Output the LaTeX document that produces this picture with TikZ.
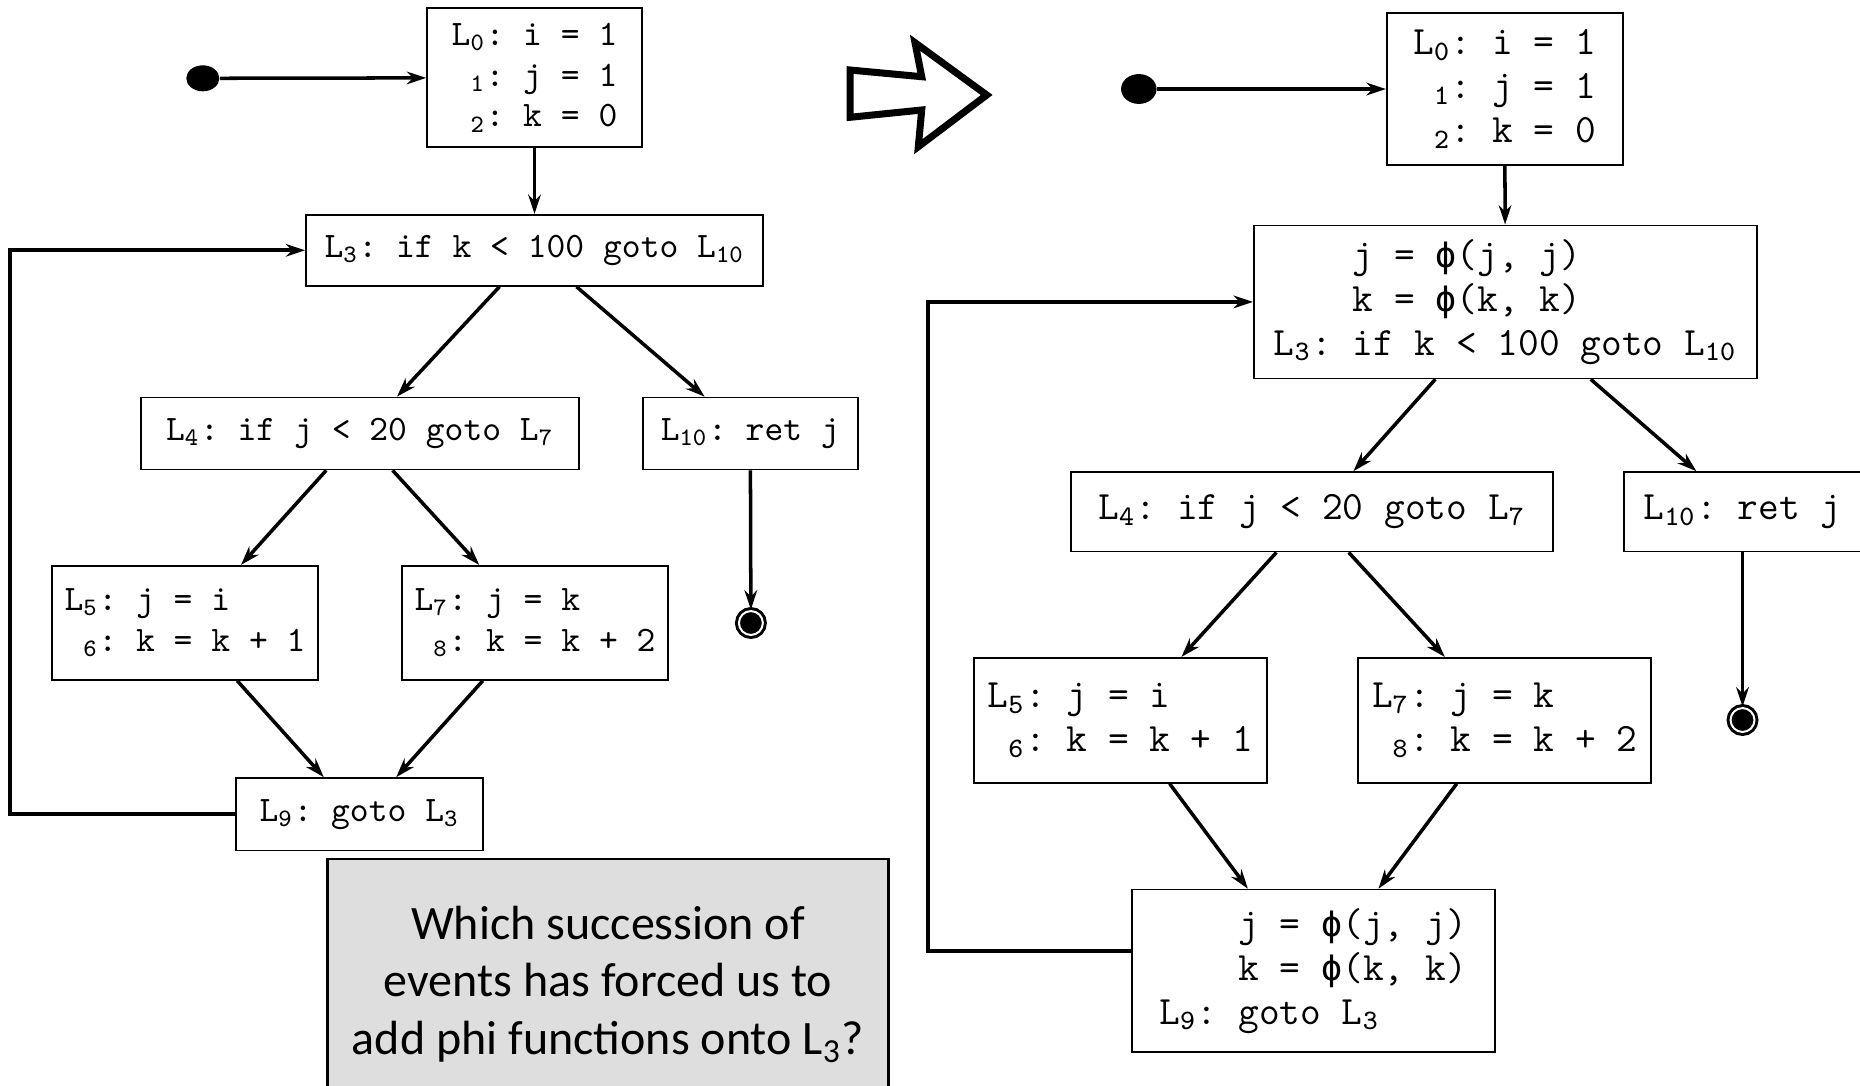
\documentclass[tikz,border=0pt]{standalone}
\usepackage{fontspec}
\usepackage{xcolor}
\usetikzlibrary{arrows.meta,shapes.geometric}
\newfontfamily\qfont{Carlito}
\newfontfamily\phifont[Scale=0.87]{DejaVu Sans Mono}
\definecolor{qgray}{HTML}{DEDEDE}
\newcommand{\Lb}[1]{L\textsubscript{#1}}
\newcommand{\Lx}[1]{\phantom{L}\textsubscript{#1}}
\newcommand{\phis}{{\phifont ϕ}}

\begin{document}
\begin{tikzpicture}[
  lb/.style={draw,line width=0.5pt,align=left,inner sep=0pt,font=\ttfamily\frenchspacing\fontsize{10.2}{11.6}\selectfont},
  rb/.style={draw,line width=0.5pt,align=left,inner sep=0pt,font=\ttfamily\frenchspacing\fontsize{11.45}{12.5}\selectfont},
  init/.style={ellipse,fill=black,inner sep=0pt},
  fin/.style={circle,fill=black,draw=black,double=white,double distance=0.57pt,line width=0.85pt,inner sep=0pt,minimum size=6.8pt},
  arr/.style={-{Stealth[length=5.5pt,width=3.6pt]},line width=1pt},
  back/.style={-{Stealth[length=5.5pt,width=3.6pt]},line width=1.1pt}]
\useasboundingbox (0,0) rectangle (18.6,-10.85);

% before
\node[init,minimum width=9.4pt,minimum height=7.4pt] (startL) at (2.028,-0.783) {};
\node[lb,minimum width=2.15cm,minimum height=1.39cm] (L0) at (5.345,-0.777)
  {\Lb{0}: i = 1\\\Lx{1}: j = 1\\\Lx{2}: k = 0};
\node[lb,minimum width=4.57cm,minimum height=0.71cm] (L3) at (5.345,-2.503) {\Lb{3}: if k < 100 goto \Lb{10}};
\node[lb,minimum width=4.38cm,minimum height=0.72cm] (L4) at (3.60,-4.335) {\Lb{4}: if j < 20 goto \Lb{7}};
\node[lb,minimum width=2.147cm,minimum height=0.72cm] (L10) at (7.503,-4.335) {\Lb{10}: ret j};
\node[lb,minimum width=2.66cm,minimum height=1.14cm] (L5) at (1.85,-6.228) {\Lb{5}: j = i\\\Lx{6}: k = k + 1};
\node[lb,minimum width=2.66cm,minimum height=1.14cm] (L7) at (5.35,-6.228) {\Lb{7}: j = k\\\Lx{8}: k = k + 2};
\node[lb,minimum width=2.468cm,minimum height=0.725cm] (L9) at (3.594,-8.143) {\Lb{9}: goto \Lb{3}};
\node[fin] (endL) at (7.509,-6.23) {};

\draw[arr] (startL) -- (L0);
\draw[arr] (L0) -- (L3);
\draw[arr] ([xshift=-0.35cm]L3.south) -- ([xshift=0.37cm]L4.north);
\draw[arr] ([xshift=0.42cm]L3.south) -- ([xshift=-0.457cm]L10.north);
\draw[arr] ([xshift=-0.338cm]L4.south) -- ([xshift=0.56cm]L5.north);
\draw[arr] ([xshift=0.326cm]L4.south) -- ([xshift=-0.558cm]L7.north);
\draw[arr] ([xshift=0.522cm]L5.south) -- ([xshift=-0.356cm]L9.north);
\draw[arr] ([xshift=-0.522cm]L7.south) -- ([xshift=0.368cm]L9.north);
\draw[arr] (L10) -- (endL);
\draw[back] (L9.west) -- ++(-2.253,0) |- (L3.west);

% the big arrow
\draw[line width=2pt] (8.50,-0.70) -- (9.217,-0.767) -- (9.15,-0.427) -- (9.867,-0.95)
  -- (9.183,-1.467) -- (9.217,-1.10) -- (8.50,-1.173) -- cycle;

% after
\node[init,minimum width=10.1pt,minimum height=8.5pt] (startR) at (11.388,-0.89) {};
\node[rb,minimum width=2.36cm,minimum height=1.52cm] (R0) at (15.047,-0.89)
  {\Lb{0}: i = 1\\\Lx{1}: j = 1\\\Lx{2}: k = 0};
\node[rb,minimum width=5.03cm,minimum height=1.53cm] (R3) at (15.053,-3.019)
  {\phantom{\Lb{3}: }j = \phis(j, j)\\\phantom{\Lb{3}: }k = \phis(k, k)\\\Lb{3}: if k < 100 goto \Lb{10}};
\node[rb,minimum width=4.817cm,minimum height=0.795cm] (R4) at (13.119,-5.118) {\Lb{4}: if j < 20 goto \Lb{7}};
\node[rb,minimum width=2.37cm,minimum height=0.795cm] (R10) at (17.425,-5.118) {\Lb{10}: ret j};
\node[rb,minimum width=2.93cm,minimum height=1.25cm] (R5) at (11.204,-7.203) {\Lb{5}: j = i\\\Lx{6}: k = k + 1};
\node[rb,minimum width=2.93cm,minimum height=1.25cm] (R7) at (15.047,-7.203) {\Lb{7}: j = k\\\Lx{8}: k = k + 2};
\node[rb,minimum width=3.63cm,minimum height=1.626cm] (R9) at (13.131,-9.709)
  {\phantom{\Lb{9}: }j = \phis(j, j)\\\phantom{\Lb{9}: }k = \phis(k, k)\\\Lb{9}: goto \Lb{3}};
\node[fin] (endR) at (17.425,-7.20) {};

\draw[arr] (startR) -- (R0);
\draw[arr] (R0) -- (R3);
\draw[arr] ([xshift=-0.70cm]R3.south) -- ([xshift=0.416cm]R4.north);
\draw[arr] ([xshift=0.854cm]R3.south) -- ([xshift=-0.462cm]R10.north);
\draw[arr] ([xshift=-0.355cm]R4.south) -- ([xshift=0.61cm]R5.north);
\draw[arr] ([xshift=0.368cm]R4.south) -- ([xshift=-0.599cm]R7.north);
\draw[arr] ([xshift=0.492cm]R5.south) -- ([xshift=-0.652cm]R9.north);
\draw[arr] ([xshift=-0.48cm]R7.south) -- ([xshift=0.653cm]R9.north);
\draw[arr] (R10) -- (endR);
\draw[back] ([yshift=0.196cm]R9.west) -- ++(-2.028,0) |- (R3.west);

% question
\node[draw,fill=qgray,line width=0.7pt,minimum width=5.61cm,minimum height=2.5cm,align=center,
  font=\qfont\fontsize{13.66}{16.4}\selectfont] (quest) at (6.08,-9.84)
  {Which succession of\\events has forced us to\\add phi functions onto L\textsubscript{3}?};
\end{tikzpicture}
\end{document}
